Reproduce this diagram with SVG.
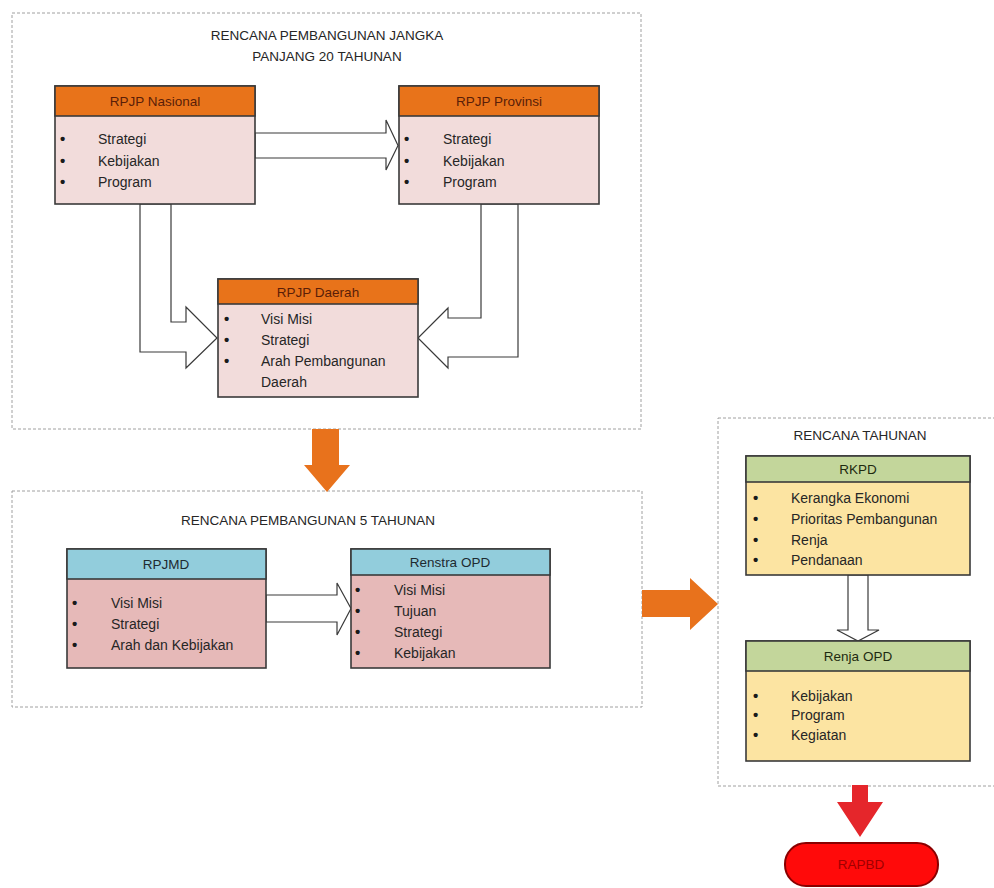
<svg xmlns="http://www.w3.org/2000/svg" width="994" height="888" viewBox="0 0 994 888">
<style>
.frame{fill:none;stroke:#a0a0a0;stroke-width:1;stroke-dasharray:3 2}
.title{font-family:"Liberation Sans",Arial,sans-serif;font-size:13.5px;fill:#262626;text-anchor:middle}
.hd{font-family:"Liberation Sans",Arial,sans-serif;font-size:13.5px;text-anchor:middle}
.it{font-family:"Liberation Sans",Arial,sans-serif;font-size:14px;fill:#262626}
.bl{font-family:"Liberation Sans",Arial,sans-serif;font-size:15px;font-weight:bold;fill:#1a1a1a}
.box{stroke:#3a3a3a;stroke-width:1.6}
.hollow{fill:#fff;stroke:#3a3a3a;stroke-width:1.2;stroke-linejoin:miter}
</style>
<rect width="994" height="888" fill="#fff"/>
<g id="frames">
<rect class="frame" x="12" y="13" width="629" height="416"/>
<rect class="frame" x="12" y="491" width="630" height="216"/>
<rect class="frame" x="718" y="418" width="290" height="368"/>
<text class="title" x="327" y="40">RENCANA PEMBANGUNAN JANGKA</text>
<text class="title" x="327" y="61">PANJANG 20 TAHUNAN</text>
<text class="title" x="308" y="525">RENCANA PEMBANGUNAN 5 TAHUNAN</text>
<text class="title" x="860" y="440">RENCANA TAHUNAN</text>
</g>
<g id="connectors">
<polygon class="hollow" points="255,133 386,133 386,120 398,145.5 386,170 386,158 255,158"/>
<polygon class="hollow" points="140,204 171,204 171,322 186,322 186,307 217,338 186,368 186,352 140,352"/>
<polygon class="hollow" points="481,204 518,204 518,357 448,357 448,368 418,338 448,308 448,318 481,318"/>
<polygon class="hollow" points="266,595 337,595 337,583 351,608.5 337,635 337,622 266,622"/>
<polygon class="hollow" points="848,575 868,575 868,630 879,630 858,641 837,630 848,630"/>
<polygon fill="#E8721C" points="312,429 339,429 339,465 350,465 327,492 304,465 312,465"/>
<polygon fill="#E8721C" points="642,590 690,590 690,578 718,604 690,630 690,617 642,617"/>
<polygon fill="#E5262B" points="852,785 868,785 868,802 883,802 860,837 837,802 852,802"/>
</g>
<g id="rpjp-nasional">
<rect class="box" x="55" y="86" width="200" height="118" fill="#F2DCDB"/>
<rect class="box" x="55" y="86" width="200" height="30" fill="#E8731A"/>
<text class="hd" x="155" y="106" fill="#5a1e08">RPJP Nasional</text>
<text class="bl" x="60" y="144">•</text><text class="it" x="98" y="144">Strategi</text>
<text class="bl" x="60" y="166">•</text><text class="it" x="98" y="166">Kebijakan</text>
<text class="bl" x="60" y="187">•</text><text class="it" x="98" y="187">Program</text>
</g>
<g id="rpjp-provinsi">
<rect class="box" x="399" y="86" width="200" height="118" fill="#F2DCDB"/>
<rect class="box" x="399" y="86" width="200" height="30" fill="#E8731A"/>
<text class="hd" x="499" y="106" fill="#5a1e08">RPJP Provinsi</text>
<text class="bl" x="404" y="144">•</text><text class="it" x="443" y="144">Strategi</text>
<text class="bl" x="404" y="166">•</text><text class="it" x="443" y="166">Kebijakan</text>
<text class="bl" x="404" y="187">•</text><text class="it" x="443" y="187">Program</text>
</g>
<g id="rpjp-daerah">
<rect class="box" x="218" y="279" width="200" height="118" fill="#F2DCDB"/>
<rect class="box" x="218" y="279" width="200" height="25" fill="#E8731A"/>
<text class="hd" x="318" y="297" fill="#5a1e08">RPJP Daerah</text>
<text class="bl" x="224" y="324">•</text><text class="it" x="261" y="324">Visi Misi</text>
<text class="bl" x="224" y="345">•</text><text class="it" x="261" y="345">Strategi</text>
<text class="bl" x="224" y="366">•</text><text class="it" x="261" y="366">Arah Pembangunan</text>
<text class="it" x="261" y="387">Daerah</text>
</g>
<g id="rpjmd">
<rect class="box" x="67" y="549" width="199" height="119" fill="#E6B9B8"/>
<rect class="box" x="67" y="549" width="199" height="30" fill="#92CDDC"/>
<text class="hd" x="166" y="569" fill="#1e2a30">RPJMD</text>
<text class="bl" x="72" y="608">•</text><text class="it" x="111" y="608">Visi Misi</text>
<text class="bl" x="72" y="629">•</text><text class="it" x="111" y="629">Strategi</text>
<text class="bl" x="72" y="650">•</text><text class="it" x="111" y="650">Arah dan Kebijakan</text>
</g>
<g id="renstra-opd">
<rect class="box" x="351" y="549" width="199" height="119" fill="#E6B9B8"/>
<rect class="box" x="351" y="549" width="199" height="26" fill="#92CDDC"/>
<text class="hd" x="450" y="567" fill="#1e2a30">Renstra OPD</text>
<text class="bl" x="355" y="595">•</text><text class="it" x="394" y="595">Visi Misi</text>
<text class="bl" x="355" y="616">•</text><text class="it" x="394" y="616">Tujuan</text>
<text class="bl" x="355" y="637">•</text><text class="it" x="394" y="637">Strategi</text>
<text class="bl" x="355" y="658">•</text><text class="it" x="394" y="658">Kebijakan</text>
</g>
<g id="rkpd">
<rect class="box" x="746" y="456" width="224" height="119" fill="#FCE4A2"/>
<rect class="box" x="746" y="456" width="224" height="26" fill="#C3D69B"/>
<text class="hd" x="858" y="474" fill="#1e2a10">RKPD</text>
<text class="bl" x="753" y="503">•</text><text class="it" x="791" y="503">Kerangka Ekonomi</text>
<text class="bl" x="753" y="524">•</text><text class="it" x="791" y="524">Prioritas Pembangunan</text>
<text class="bl" x="753" y="545">•</text><text class="it" x="791" y="545">Renja</text>
<text class="bl" x="753" y="565">•</text><text class="it" x="791" y="565">Pendanaan</text>
</g>
<g id="renja-opd">
<rect class="box" x="746" y="641" width="224" height="120" fill="#FCE4A2"/>
<rect class="box" x="746" y="641" width="224" height="30" fill="#C3D69B"/>
<text class="hd" x="858" y="661" fill="#1e2a10">Renja OPD</text>
<text class="bl" x="753" y="701">•</text><text class="it" x="791" y="701">Kebijakan</text>
<text class="bl" x="753" y="720">•</text><text class="it" x="791" y="720">Program</text>
<text class="bl" x="753" y="740">•</text><text class="it" x="791" y="740">Kegiatan</text>
</g>
<g id="rapbd">
<rect x="785" y="843" width="153" height="43" rx="21" fill="#FF0A0A" stroke="#8a0000" stroke-width="2"/>
<text class="hd" x="861" y="869" fill="#a00000" font-size="12">RAPBD</text>
</g>
</svg>
